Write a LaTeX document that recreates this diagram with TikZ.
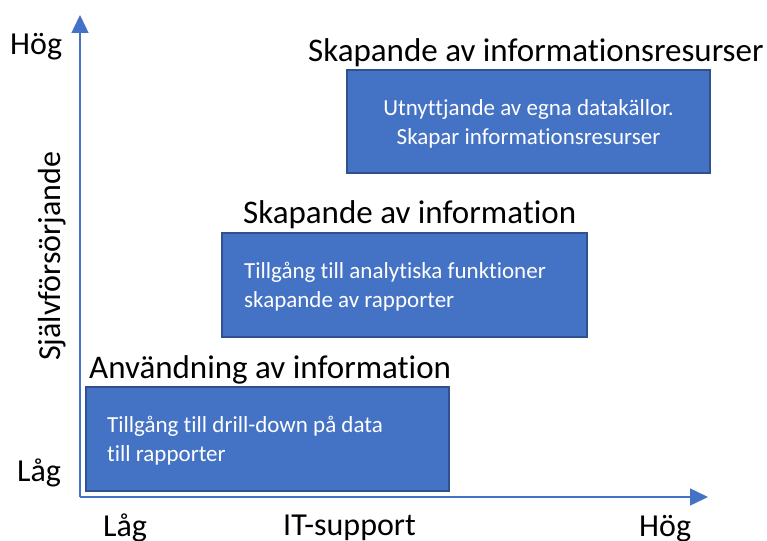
\documentclass[tikz,border=0pt]{standalone}
\usepackage{fontspec}
\setmainfont{Carlito}[Ligatures=NoCommon]
\usetikzlibrary{arrows.meta}
\definecolor{boxfill}{HTML}{4472C4}
\definecolor{boxline}{HTML}{2F528F}
\definecolor{axisblue}{HTML}{4472C4}
\begin{document}
\begin{tikzpicture}[x=1pt,y=-1pt,
  axis/.style={draw=axisblue, line width=1.5pt, -{Triangle[length=18pt,width=17pt]}},
  blk/.style={rectangle, draw=boxline, fill=boxfill, line width=2pt},
  btxt/.style={text=white, inner sep=0pt, font=\fontsize{23}{29}\selectfont},
  head/.style={anchor=base west, inner sep=0pt, font=\fontsize{33}{38}\selectfont},
  lbl/.style={anchor=base west, inner sep=0pt, font=\fontsize{32}{36}\selectfont}]
\useasboundingbox (0,0) rectangle (767,540);
% axes
\coordinate (o) at (80,497);
\coordinate (ytip) at (80,15);
\coordinate (xtip) at (708,497);
\draw[axis] (o) -- (ytip);
\draw[axis] (o) -- (xtip);
% boxes
\node[blk, minimum width=363pt, minimum height=104pt] (b1) at (267.5,439) {};
\node[btxt, align=left, anchor=west] (t1) at ([xshift=22pt,yshift=-2pt]b1.west)
  {Tillgång till drill-down på data\\till rapporter};
\node[blk, minimum width=365pt, minimum height=104pt] (b2) at (404.5,285) {};
\node[btxt, align=left, anchor=west] (t2) at ([xshift=23pt,yshift=-2pt]b2.west)
  {Tillgång till analytiska funktioner\\skapande av rapporter};
\node[blk, minimum width=363pt, minimum height=103pt] (b3) at (528.5,121.5) {};
\node[btxt, align=center] (t3) at ([yshift=-2pt]b3.center)
  {Utnyttjande av egna datakällor.\\Skapar informationsresurser};
% headings
\node[head] (h3) at (308,62) {Skapande av informationsresurser};
\node[head] (h2) at (243,223) {Skapande av information};
\node[head] (h1) at (89,378) {Användning av information};
% axis labels
\node[lbl] (yhi) at (10,55) {Hög};
\node[lbl] (ylo) at (17,481) {Låg};
\node[lbl, rotate=90] (ytitle) at (60,361) {Självförsörjande};
\node[lbl] (xlo) at (103,536) {Låg};
\node[lbl] (xtitle) at (283,535) {IT-support};
\node[lbl] (xhi) at (639,536) {Hög};
\end{tikzpicture}
\end{document}
